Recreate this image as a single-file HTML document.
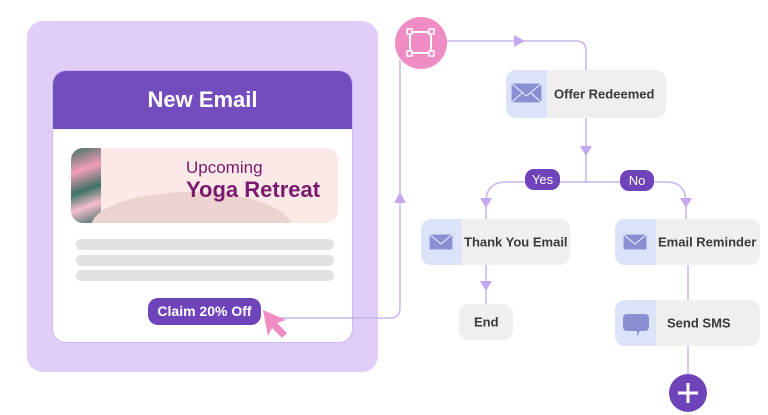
<!DOCTYPE html>
<html><head><style>
body{margin:0;width:768px;height:415px;background:#fff;font-family:"Liberation Sans",sans-serif;position:relative;overflow:hidden}
.a{position:absolute}
.node{position:absolute;background:#efefef;border-radius:10px;overflow:hidden;font-size:13px;font-weight:bold;color:#3a3a3a}
.node .ic{position:absolute;left:0;top:0;bottom:0;width:41px;background:#dae3f7}
.node span{position:absolute;top:50%;transform:translateY(-50%);white-space:nowrap}
.pill{position:absolute;background:#6f44bb;color:#fff;border-radius:9px;font-size:13px;text-align:center}
.bar{position:absolute;left:76px;width:258px;height:11px;background:#e2e2e4;border-radius:6px}
</style></head><body>
<div class="a" style="left:27px;top:21px;width:351px;height:351px;background:#e0cdf8;border-radius:16px"></div>
<div class="a" style="left:52px;top:70px;width:301px;height:273px;background:#fff;border-radius:14px;overflow:hidden;border:1px solid #cdb8f0;box-sizing:border-box">
 <div style="height:58px;background:#734cbd;color:#fff;font-size:22px;font-weight:bold;text-align:center;line-height:58px">New Email</div>
</div>
<div class="a" style="left:71px;top:148px;width:267px;height:75px;background:#fbe9e7;border-radius:12px;overflow:hidden">
 <div class="a" style="left:0;top:0;width:30px;height:75px;background:linear-gradient(160deg,#1d5c4f 0,#f08fb2 30%,#1d5c4f 55%,#f4b6c8 75%,#1d5c4f 100%);opacity:.85"></div>
 <div class="a" style="left:20px;top:44px;width:200px;height:70px;background:#ecd3d0;border-radius:50% 50% 0 0"></div>
 <div class="a" style="left:115px;top:10px;color:#7a1a6e;font-size:17px;line-height:20px">Upcoming</div>
 <div class="a" style="left:115px;top:29px;color:#7a1a6e;font-size:22px;font-weight:bold;line-height:26px">Yoga Retreat</div>
</div>
<div class="bar" style="top:239px"></div><div class="bar" style="top:255px"></div><div class="bar" style="top:270px"></div>
<div class="pill" style="left:148px;top:298px;width:113px;height:27px;line-height:27px;font-weight:bold;font-size:14px;border-radius:10px">Claim 20% Off</div>
<svg class="a" style="left:0;top:0" width="768" height="415">
 <g fill="none" stroke="#c9b3ee" stroke-width="1.5">
  <path d="M265 318 H390 Q400 318 400 308 V60"/>
  <path d="M447 41 H576 Q586 41 586 51 V70"/>
  <path d="M586 118 V182 M506 182 Q486 182 486 202 V219 M486 265 V304 M506 182 H666 Q686 182 686 202 V219 M688 265 V300 M688 346 V375"/>
 </g>
 <g fill="#c2a9ee">
  <path d="M394 203 L400 192 L406 203Z"/>
  <path d="M514 35 L525 41 L514 47Z"/>
  <path d="M580 146 L586 156 L592 146Z"/>
  <path d="M480 198 L486 208 L492 198Z"/>
  <path d="M680 198 L686 208 L692 198Z"/>
  <path d="M480 281 L486 291 L492 281Z"/>
 </g>
 <path d="M263 310 L286 320 L277 323 L287 333 L282 338 L272 328 L268 336Z" fill="#ef8cc3"/>
 <circle cx="421" cy="43" r="26" fill="#ef8cc3"/>
 <rect x="410" y="32" width="21" height="21" fill="none" stroke="#fff" stroke-width="2"/>
 <g fill="#ef8cc3" stroke="#fff" stroke-width="1.5"><rect x="407" y="29" width="5" height="5"/><rect x="429" y="29" width="5" height="5"/><rect x="407" y="51" width="5" height="5"/><rect x="429" y="51" width="5" height="5"/></g>
 <circle cx="688" cy="393" r="19" fill="#6f44bb"/>
 <path d="M688 383 V403 M678 393 H698" stroke="#fff" stroke-width="3"/>
</svg>
<div class="node" style="left:506px;top:70px;width:160px;height:48px"><div class="ic"></div><span style="left:48px">Offer Redeemed</span></div>
<div class="node" style="left:421px;top:219px;width:149px;height:46px"><div class="ic"></div><span style="left:43px">Thank You Email</span></div>
<div class="node" style="left:615px;top:219px;width:145px;height:46px"><div class="ic"></div><span style="left:43px">Email Reminder</span></div>
<div class="node" style="left:459px;top:304px;width:54px;height:36px"><span style="left:15px">End</span></div>
<div class="node" style="left:615px;top:300px;width:145px;height:46px"><div class="ic"></div><span style="left:52px">Send SMS</span></div>
<svg class="a" style="left:0;top:0" width="768" height="415">
 <g fill="#8a8ed3" stroke="#dae3f7" stroke-width="1.2">
  <rect x="511" y="83" width="31" height="20"/><path d="M511 83 L526.5 96 L542 83 M511 103 L522 93 M542 103 L531 93" fill="none"/>
  <rect x="429" y="234" width="24" height="16"/><path d="M429 234 L441 244 L453 234" fill="none"/>
  <rect x="623" y="234" width="24" height="16"/><path d="M623 234 L635 244 L647 234" fill="none"/>
 </g>
 <path d="M627 314 h18 a4 4 0 0 1 4 4 v9 a4 4 0 0 1 -4 4 h-5 l-3 5 v-5 h-10 a4 4 0 0 1 -4 -4 v-9 a4 4 0 0 1 4 -4z" fill="#8a8ed3"/>
</svg>
<div class="pill" style="left:525px;top:169px;width:35px;height:21px;line-height:21px">Yes</div>
<div class="pill" style="left:620px;top:170px;width:34px;height:21px;line-height:21px">No</div>
</body></html>
